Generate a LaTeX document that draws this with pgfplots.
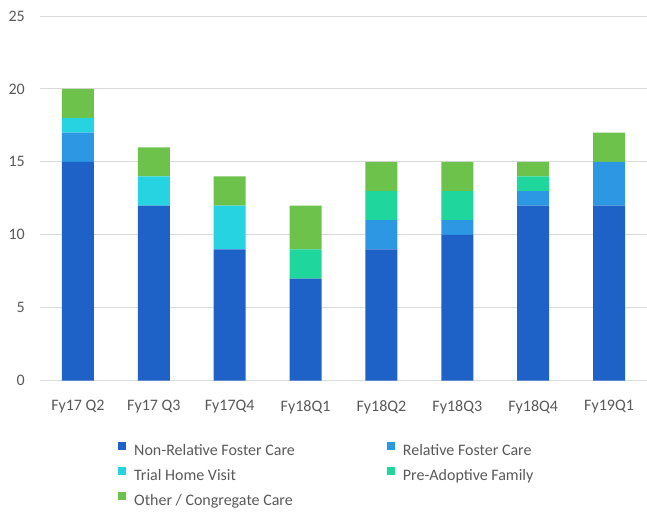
\documentclass[border=0pt]{standalone}
\usepackage{pgfplots}
\pgfplotsset{compat=1.18}
\usepackage{fontspec}
\setmainfont{Carlito}
\definecolor{txt}{HTML}{595959}
\definecolor{gridc}{HTML}{D9D9D9}
\definecolor{cNR}{HTML}{1E62C8}
\definecolor{cRel}{HTML}{2C97E2}
\definecolor{cTrial}{HTML}{26D3E0}
\definecolor{cPA}{HTML}{1FD69C}
\definecolor{cOther}{HTML}{6DC24B}
\begin{document}
\begin{tikzpicture}
\useasboundingbox (-40pt,-131.3pt) rectangle (607pt,380.7pt);
\begin{axis}[
  at={(0pt,0pt)}, anchor=south west,
  scale only axis,
  width=607pt, height=364.7pt,
  ybar stacked, bar width=32pt,
  xmin=-0.5, xmax=7.5,
  ymin=0, ymax=25,
  xtick={0,...,7},
  xticklabels={Fy17 Q2,Fy17 Q3,Fy17Q4,Fy18Q1,Fy18Q2,Fy18Q3,Fy18Q4,Fy19Q1},
  ytick={0,5,...,25},
  axis line style={draw=none},
  ymajorgrids, grid style={gridc, line width=1pt},
  major tick length=0pt,
  /pgf/number format/assume math mode=true,
  tick label style={font=\fontsize{16}{19}\selectfont, text=txt},
  yticklabel style={inner sep=0pt, xshift=-15pt},
  xticklabel style={inner sep=0pt, anchor=north, yshift=-19.3pt},
  legend columns=2,
  legend cell align=left,
  legend style={
    at={(0.1285,-0.168)}, anchor=north west,
    draw=none, fill=none, inner sep=0pt,
    font=\fontsize{16}{19}\selectfont, text=txt,
    column sep=0pt, row sep=8pt,
    nodes={inner sep=0pt, text height=12pt, text depth=4pt},
    /tikz/every odd column/.append style={column sep=8pt},
    /tikz/every even column/.append style={column sep=92pt},
  },
  legend image code/.code={\fill[#1] (0pt,1pt) rectangle (8pt,9pt);},
  every axis plot/.append style={draw=none},
]
\addplot+[fill=cNR] coordinates {(0,15) (1,12) (2,9) (3,7) (4,9) (5,10) (6,12) (7,12)};
\addlegendentry{Non-Relative Foster Care}
\addplot+[fill=cRel] coordinates {(0,2) (1,0) (2,0) (3,0) (4,2) (5,1) (6,1) (7,3)};
\addlegendentry{Relative Foster Care}
\addplot+[fill=cTrial] coordinates {(0,1) (1,2) (2,3) (3,0) (4,0) (5,0) (6,0) (7,0)};
\addlegendentry{Trial Home Visit}
\addplot+[fill=cPA] coordinates {(0,0) (1,0) (2,0) (3,2) (4,2) (5,2) (6,1) (7,0)};
\addlegendentry{Pre-Adoptive Family}
\addplot+[fill=cOther] coordinates {(0,2) (1,2) (2,2) (3,3) (4,2) (5,2) (6,1) (7,2)};
\addlegendentry{Other / Congregate Care}
\end{axis}
\end{tikzpicture}
\end{document}
